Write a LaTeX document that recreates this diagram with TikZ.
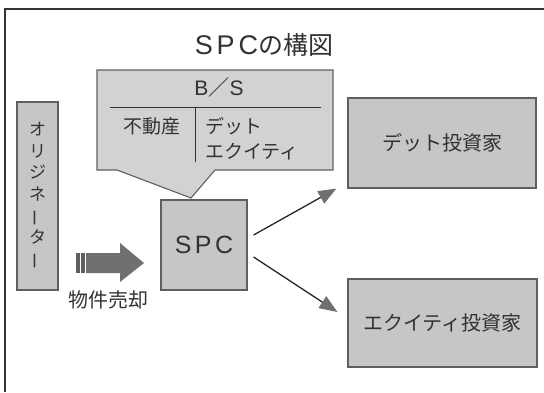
\documentclass[tikz,border=0pt]{standalone}
\usepackage{fontspec}
\setmainfont{Noto Sans CJK JP}
\newfontfamily\widefont[LetterSpace=14]{Liberation Sans}
\usetikzlibrary{arrows.meta}
\definecolor{boxfill}{RGB}{198,198,198}
\definecolor{calloutfill}{RGB}{210,210,210}
\definecolor{boxline}{RGB}{95,95,95}
\definecolor{arrowgray}{RGB}{112,112,112}
\definecolor{txt}{RGB}{50,50,50}
\newcommand\vbar{\rotatebox[origin=c]{90}{ー}}
\begin{document}
\begin{tikzpicture}[x=1pt,y=-1pt,
  graybox/.style={draw=boxline, line width=1.2pt, fill=boxfill, inner sep=0pt, text=txt},
  lbl/.style={text=txt, inner sep=0pt},
  conn/.style={line width=1.3pt, draw=black!85, -{Triangle[length=18pt,width=14pt,color=arrowgray,fill=arrowgray]}}]
\useasboundingbox (0,0) rectangle (544,392);
% frame
\draw[line width=1.4pt, black!80] (544,9) -- (5,9) -- (5,392);
% title
\node[lbl, font=\fontsize{25}{28}\selectfont] (title) at (264,45) {{\widefont\fontsize{27}{28}\selectfont SPC}の構図};
% callout
\draw[draw=boxline, line width=1.1pt, fill=calloutfill]
  (97,70) -- (333,70) -- (333,170) -- (215,170) -- (191,198) -- (117,170) -- (97,170) -- cycle;
\node[lbl, font=\fontsize{21}{24}\selectfont] (bs) at (219,88) {{\widefont B}／{\widefont S}};
\coordinate (hl) at (110,107);
\coordinate (hr) at (321,107);
\coordinate (vt) at (195,107);
\coordinate (vb) at (195,162);
\draw[line width=1pt, txt] (hl) -- (hr);
\draw[line width=1pt, txt] (vt) -- (vb);
\node[lbl, font=\fontsize{19}{22}\selectfont] (asset) at (152,126) {不動産};
\node[lbl, font=\fontsize{19}{22}\selectfont, anchor=west] (debtl) at (205,126) {デット};
\node[lbl, font=\fontsize{19}{22}\selectfont, anchor=west] (eqtl) at (205,152) {エクイティ};
% boxes
\node[graybox, minimum width=41, minimum height=188, align=center,
      font=\fontsize{17}{21.5}\selectfont] (orig) at (37.5,196)
  {オ\\リ\\ジ\\ネ\\\vbar\\タ\\\vbar};
\node[graybox, minimum width=86, minimum height=90, font=\fontsize{25}{28}\selectfont] (spc) at (204,245) {\widefont SPC};
\node[graybox, minimum width=188, minimum height=90, font=\fontsize{20}{24}\selectfont] (debt) at (442,143) {デット投資家};
\node[graybox, minimum width=189, minimum height=88, font=\fontsize{20}{24}\selectfont] (equity) at (442.5,323) {エクイティ投資家};
% block arrow
\fill[arrowgray!85!black] (76,253) rectangle (79.5,273);
\fill[arrowgray!85!black] (81,253) rectangle (85,273);
\fill[arrowgray] (86,253) -- (120,253) -- (120,243) -- (144,263) -- (120,282) -- (120,273) -- (86,273) -- cycle;
\node[lbl, font=\fontsize{20}{24}\selectfont] (sale) at (108,300) {物件売却};
% connectors
\draw[conn] ([xshift=6pt,yshift=10pt]spc.east) -- ([xshift=-11pt]debt.south west);
\draw[conn] ([xshift=6pt,yshift=-12pt]spc.east) -- ([xshift=-10pt,yshift=11pt]equity.west);
\end{tikzpicture}
\end{document}
